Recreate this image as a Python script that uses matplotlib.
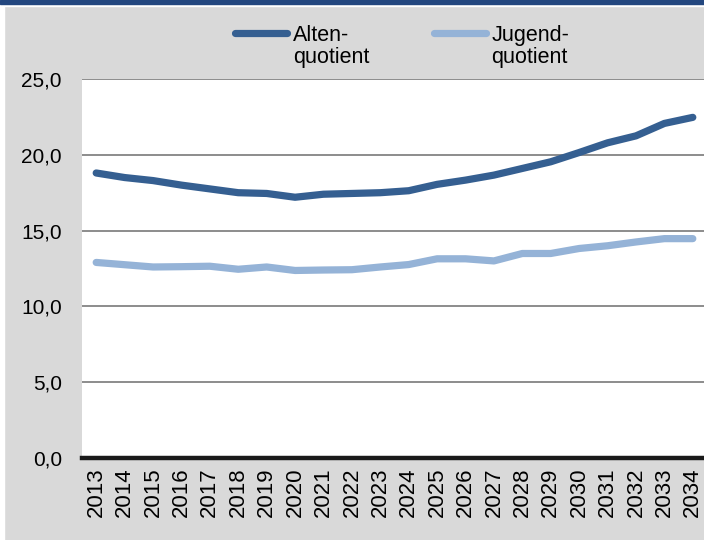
import numpy as np
import matplotlib
matplotlib.use('Agg')
from matplotlib import pyplot as plt
from matplotlib.patches import Rectangle
from matplotlib.legend_handler import HandlerLine2D

plt.rcParams['font.family'] = ['Liberation Sans', 'DejaVu Sans']

years = [str(y) for y in range(2013, 2035)]
alten = [18.8, 18.5, 18.3, 18.0, 17.75, 17.5, 17.45, 17.2, 17.4, 17.45, 17.5, 17.63,
         18.05, 18.33, 18.66, 19.1, 19.54, 20.15, 20.79, 21.25, 22.07, 22.47]
jugend = [12.9, 12.75, 12.6, 12.62, 12.65, 12.45, 12.6, 12.37, 12.4, 12.42, 12.6, 12.76,
          13.14, 13.14, 13.0, 13.49, 13.49, 13.82, 14.0, 14.25, 14.47, 14.47]
yticks = [0, 5, 10, 15, 20, 25]
ytick_labels = ['0,0', '5,0', '10,0', '15,0', '20,0', '25,0']

W, H = 704, 540
fig = plt.figure(figsize=(W / 100, H / 100), dpi=100, facecolor='#d9d9d9')

# white frame strips and dark blue top band
fig.patches.append(Rectangle((0, 0), 4 / W, 1, transform=fig.transFigure, color='white', zorder=0))
fig.patches.append(Rectangle((0, 1 - 6 / H), 1, 6 / H, transform=fig.transFigure, color='white', zorder=0))
fig.patches.append(Rectangle((0, 1 - 3.5 / H), 1, 3.5 / H, transform=fig.transFigure, color='#23477f', zorder=1))

left, right, top, bottom = 82, 707, 79, 458
ax = fig.add_axes([left / W, (H - bottom) / H, (right - left) / W, (bottom - top) / H])
ax.set_facecolor('white')

x = np.arange(len(years))
l1, = ax.plot(x, alten, color='#355f91', lw=5.2, solid_capstyle='round', solid_joinstyle='round',
              label='Alten-\nquotient', zorder=3)
l2, = ax.plot(x, jugend, color='#95b3d7', lw=5.2, solid_capstyle='round', solid_joinstyle='round',
              label='Jugend-\nquotient', zorder=3)

ax.set_xlim(-0.5, len(years) - 0.5)
ax.set_ylim(0, 25)
ax.set_yticks(yticks)
ax.set_yticklabels(ytick_labels)
ax.set_xticks(x)
ax.set_xticklabels(years, rotation=90)
ax.tick_params(axis='y', length=0, pad=14.5, labelsize=15)
ax.tick_params(axis='x', length=0, pad=7, labelsize=16)
ax.grid(axis='y', color='#8c8c8c', lw=1.4, zorder=1)
ax.set_axisbelow(True)
for s in ['left', 'right', 'top']:
    ax.spines[s].set_visible(False)
ax.spines['bottom'].set_linewidth(3.2)
ax.spines['bottom'].set_color('#1a1a1a')
ax.spines['bottom'].set_zorder(4)


class TopHandler(HandlerLine2D):
    def create_artists(self, legend, orig_handle, xdescent, ydescent, width, height, fontsize, trans):
        arts = super().create_artists(legend, orig_handle, xdescent, ydescent, width, height, fontsize, trans)
        for a in arts:
            a.set_ydata(np.asarray(a.get_ydata()) + fontsize * 0.66)
            a.set_solid_capstyle('round')
        return arts


leg = fig.legend(handles=[l1, l2], loc='upper left', bbox_to_anchor=(235 / W, 1 - 25 / H), ncol=2,
                 frameon=False, prop={'family': 'Liberation Sans', 'size': 15.5},
                 handlelength=2.42, handletextpad=0.26, columnspacing=3.0,
                 borderaxespad=0, borderpad=0, handler_map={matplotlib.lines.Line2D: TopHandler()})
for t in leg.get_texts():
    t.set_linespacing(1.08)

fig.savefig('out.png', dpi=100, facecolor=fig.get_facecolor())
